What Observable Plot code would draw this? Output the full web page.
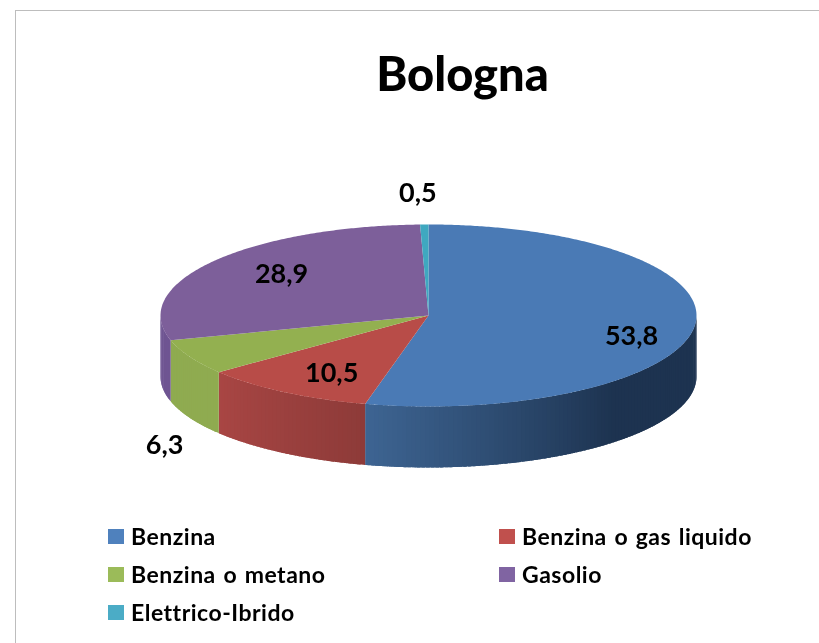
<!DOCTYPE html>
<html>
<head>
<meta charset="utf-8">
<script src="https://cdn.jsdelivr.net/npm/d3@7"></script>
<script src="https://cdn.jsdelivr.net/npm/@observablehq/plot@0.6"></script>
<style>
  html, body { margin: 0; padding: 0; background: #fff; }
  body { width: 819px; height: 643px; position: relative; overflow: hidden; font-family: Lato, sans-serif; color: #000; }
  #frame { position: absolute; left: 15px; top: 10px; right: -5px; bottom: -5px; border: 1.5px solid #bdbdbd; box-sizing: border-box; }
  #title { position: absolute; left: 0; top: 0; height: 150px; width: 925px; text-align: center; font-weight: 900; font-size: 47px; line-height: 146px; filter: blur(.5px); }
  #chart { position: absolute; left: 0; top: 150px; filter: blur(.55px); }
  #legend { position: absolute; left: 0; top: 509px; width: 819px; filter: blur(.4px); }
  .item { position: absolute; font-weight: 700; font-size: 23px; letter-spacing: .5px; word-spacing: 1.5px; line-height: 26px; white-space: nowrap; }
  .item i { position: absolute; left: -23px; top: 6px; width: 16px; height: 15px; }
</style>
</head>
<body>
<div id="frame"></div>
<div id="title">Bologna</div>
<div id="chart"></div>
<div id="legend"></div>
<script>
// Data
const categories = ["Benzina", "Benzina o gas liquido", "Benzina o metano", "Gasolio", "Elettrico-Ibrido"];
const values = [53.8, 10.5, 6.3, 28.9, 0.5];
const valueLabels = ["53,8", "10,5", "6,3", "28,9", "0,5"];

// Styles
const topColors = ["#4a7ab5", "#b84c48", "#93b050", "#7d5f9a", "#3fa8c0"];
const wallFrom = ["#3e6593", "#a94644", "#8fab50", "#6f5592", "#3fa8c0"];
const wallTo = ["#1d3350", "#8e3b39", "#8fab50", "#6f5592", "#3fa8c0"];
const wallReach = [1.8, 1, 1, 1, 1];
const swatchColors = ["#4f81bd", "#c0504d", "#9bbb59", "#8064a2", "#4bacc6"];

// Layout
const W = 819, H = 360;
const cx = 428, cy = 165, rx = 268, ry = 91, depth = 61;
const labelRadius = [0.767, 0.671, 1.103, 0.684, 1.34];
const labelShiftX = [-1, 0, -1, 1, -5];
const labelShiftY = [12.7, 6.6, 84, -4, 0];
const legendColumns = [131, 522];
const legendRows = [14, 52, 90];

const rad = a => a * Math.PI / 180;
const onRim = (a, dz = 0) => [cx + rx * Math.sin(rad(a)), cy - ry * Math.cos(rad(a)) + dz];
const arcPts = (a0, a1, dz = 0) => {
  const n = Math.max(1, Math.ceil(Math.abs(a1 - a0) / 0.5));
  return d3.range(n + 1).map(i => onRim(a0 + (a1 - a0) * i / n, dz));
};
const poly = (ring, fill) => ({type: "Feature", properties: {fill}, geometry: {type: "Polygon", coordinates: [[...ring, ring[0]]]}});

let acc = 0;
const slices = values.map((v, i) => {
  const a0 = acc * 3.6; acc += v;
  return {i, v, a0, a1: acc * 3.6, mid: (acc - v / 2) * 3.6};
});

// Front wall, as narrow overlapping strips shaded across each slice; angles grow from right to left
const walls = [];
for (const s of slices) {
  const lo = Math.max(s.a0, 90), hi = Math.min(s.a1, 270);
  if (hi <= lo) continue;
  const shade = d3.interpolateRgb(wallFrom[s.i], wallTo[s.i]);
  const n = Math.ceil((hi - lo) / 1);
  for (let k = 0; k < n; k++) {
    const p = lo + (hi - lo) * k / n, q = Math.min(hi, lo + (hi - lo) * (k + 1) / n + 0.8);
    const t = Math.min(1, wallReach[s.i] * (1 - k / n));
    walls.push(poly([...arcPts(p, q), ...arcPts(q, p, depth)], shade(t)));
  }
}
const tops = slices.map(s => poly([[cx, cy], ...arcPts(s.a0, s.a1)], topColors[s.i]));

const labels = slices.map(s => {
  const [x, y] = [cx + rx * labelRadius[s.i] * Math.sin(rad(s.mid)), cy - ry * labelRadius[s.i] * Math.cos(rad(s.mid))];
  return {x: x + labelShiftX[s.i], y: y + labelShiftY[s.i], text: valueLabels[s.i]};
});

const plot = Plot.plot({
  width: W, height: H, margin: 0,
  x: {type: "identity", axis: null},
  y: {type: "identity", axis: null},
  marks: [
    Plot.geo({type: "FeatureCollection", features: walls}, {fill: d => d.properties.fill}),
    Plot.geo({type: "FeatureCollection", features: tops}, {fill: d => d.properties.fill}),
    Plot.text(labels, {x: "x", y: "y", text: "text", fontSize: 27, fontWeight: 700, fontFamily: "Lato, sans-serif", fill: "#000"})
  ]
});
document.getElementById("chart").append(plot);

const legend = document.getElementById("legend");
categories.forEach((c, i) => {
  const el = document.createElement("div");
  el.className = "item";
  el.style.left = legendColumns[i % 2] + "px";
  el.style.top = legendRows[Math.floor(i / 2)] + "px";
  el.innerHTML = `<i style="background:${swatchColors[i]}"></i>`;
  el.append(c);
  legend.append(el);
});
</script>
</body>
</html>
